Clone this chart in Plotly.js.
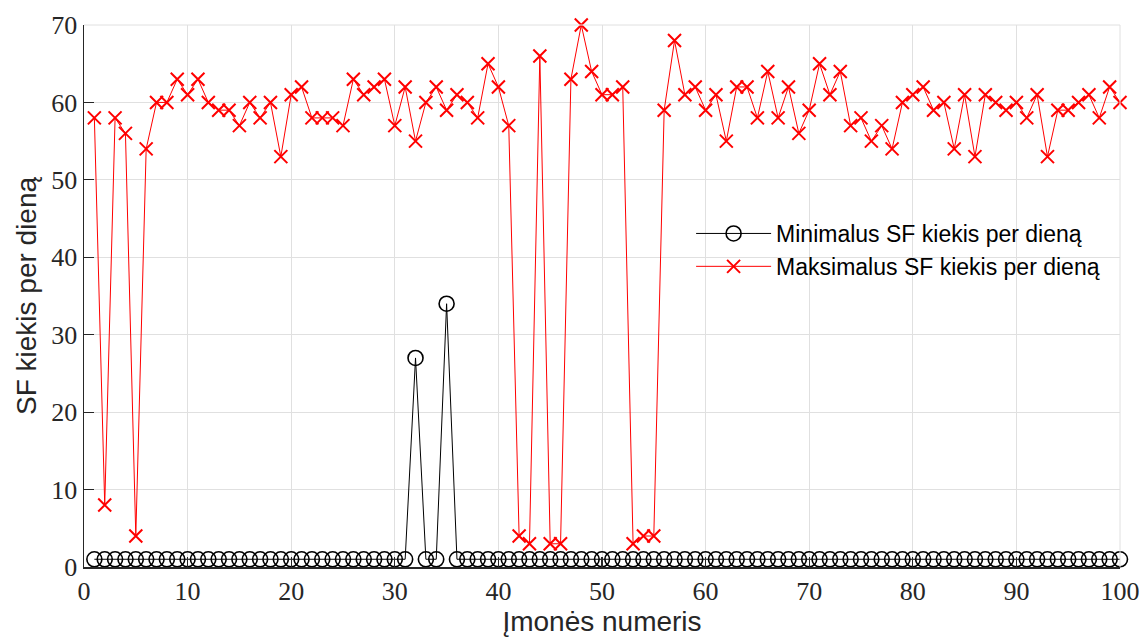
<!DOCTYPE html>
<html>
<head>
<meta charset="utf-8">
<script src="https://cdn.plot.ly/plotly-3.0.1.min.js"></script>
<style>html,body{margin:0;padding:0;background:#fff;}#chart{width:1141px;height:641px;}</style>
</head>
<body>
<div id="chart"></div>
<script>
const companyIds = Array.from({length: 100}, (_, i) => i + 1);
const minValues = [
  1,1,1,1,1,1,1,1,1,1, 1,1,1,1,1,1,1,1,1,1,
  1,1,1,1,1,1,1,1,1,1, 1,27,1,1,34,1,1,1,1,1,
  1,1,1,1,1,1,1,1,1,1, 1,1,1,1,1,1,1,1,1,1,
  1,1,1,1,1,1,1,1,1,1, 1,1,1,1,1,1,1,1,1,1,
  1,1,1,1,1,1,1,1,1,1, 1,1,1,1,1,1,1,1,1,1
];
const maxValues = [
  58,8,58,56,4,54,60,60,63,61, 63,60,59,59,57,60,58,60,53,61,
  62,58,58,58,57,63,61,62,63,57, 62,55,60,62,59,61,60,58,65,62,
  57,4,3,66,3,3,63,70,64,61, 61,62,3,4,4,59,68,61,62,59,
  61,55,62,62,58,64,58,62,56,59, 65,61,64,57,58,55,57,54,60,61,
  62,59,60,54,61,53,61,60,59,60, 58,61,53,59,59,60,61,58,62,60
];
const seriesNames = ['Minimalus SF kiekis per dieną', 'Maksimalus SF kiekis per dieną'];
const xTicks = [0,10,20,30,40,50,60,70,80,90,100];
const yTicks = [0,10,20,30,40,50,60,70];

const traces = [
  {
    x: companyIds, y: minValues, name: seriesNames[0], type: 'scatter', mode: 'lines+markers',
    cliponaxis: false,
    line: {color: '#000000', width: 1},
    marker: {symbol: 'circle-open', size: 15, color: '#000000', line: {width: 1.6, color: '#000000'}}
  },
  {
    x: companyIds, y: maxValues, name: seriesNames[1], type: 'scatter', mode: 'lines+markers',
    cliponaxis: false,
    line: {color: '#ff0000', width: 1},
    marker: {symbol: 'x-thin-open', size: 13, color: '#ff0000', line: {width: 2, color: '#ff0000'}}
  }
];

const axisCommon = {
  showgrid: true, gridcolor: '#e0e0e0', gridwidth: 1,
  showline: true, linecolor: '#262626', linewidth: 1.5,
  ticks: 'inside', ticklen: 10, tickwidth: 1.2, tickcolor: '#262626',
  zeroline: false,
  tickfont: {family: 'Liberation Serif, Times New Roman, serif', size: 26, color: '#262626'}
};

const layout = {
  width: 1141, height: 641,
  margin: {l: 84, r: 21, t: 25, b: 74},
  paper_bgcolor: '#ffffff', plot_bgcolor: '#ffffff',
  showlegend: true,
  xaxis: Object.assign({}, axisCommon, {
    range: [0, 100], tickvals: xTicks, ticktext: xTicks.map(String),
    title: {text: 'Įmonės numeris', font: {family: 'Liberation Sans, Arial, sans-serif', size: 28, color: '#262626'}, standoff: 2}
  }),
  yaxis: Object.assign({}, axisCommon, {
    range: [0, 70], tickvals: yTicks, ticktext: yTicks.map(String),
    title: {text: 'SF kiekis per dieną', font: {family: 'Liberation Sans, Arial, sans-serif', size: 28, color: '#262626'}, standoff: 6}
  }),
  legend: {
    x: 0.586, y: 0.655, xanchor: 'left', yanchor: 'top',
    bgcolor: 'rgba(0,0,0,0)', borderwidth: 0,
    font: {family: 'Liberation Sans, Arial, sans-serif', size: 23, color: '#000000'},
    itemwidth: 75, tracegroupgap: 0
  },
  shapes: [
    {type: 'line', xref: 'paper', yref: 'paper', x0: 0, x1: 1, y0: 1, y1: 1, line: {color: '#e0e0e0', width: 1}},
    {type: 'line', xref: 'paper', yref: 'paper', x0: 1, x1: 1, y0: 0, y1: 1, line: {color: '#e0e0e0', width: 1}}
  ]
};

Plotly.newPlot('chart', traces, layout, {displayModeBar: false, staticPlot: true});
</script>
</body>
</html>
